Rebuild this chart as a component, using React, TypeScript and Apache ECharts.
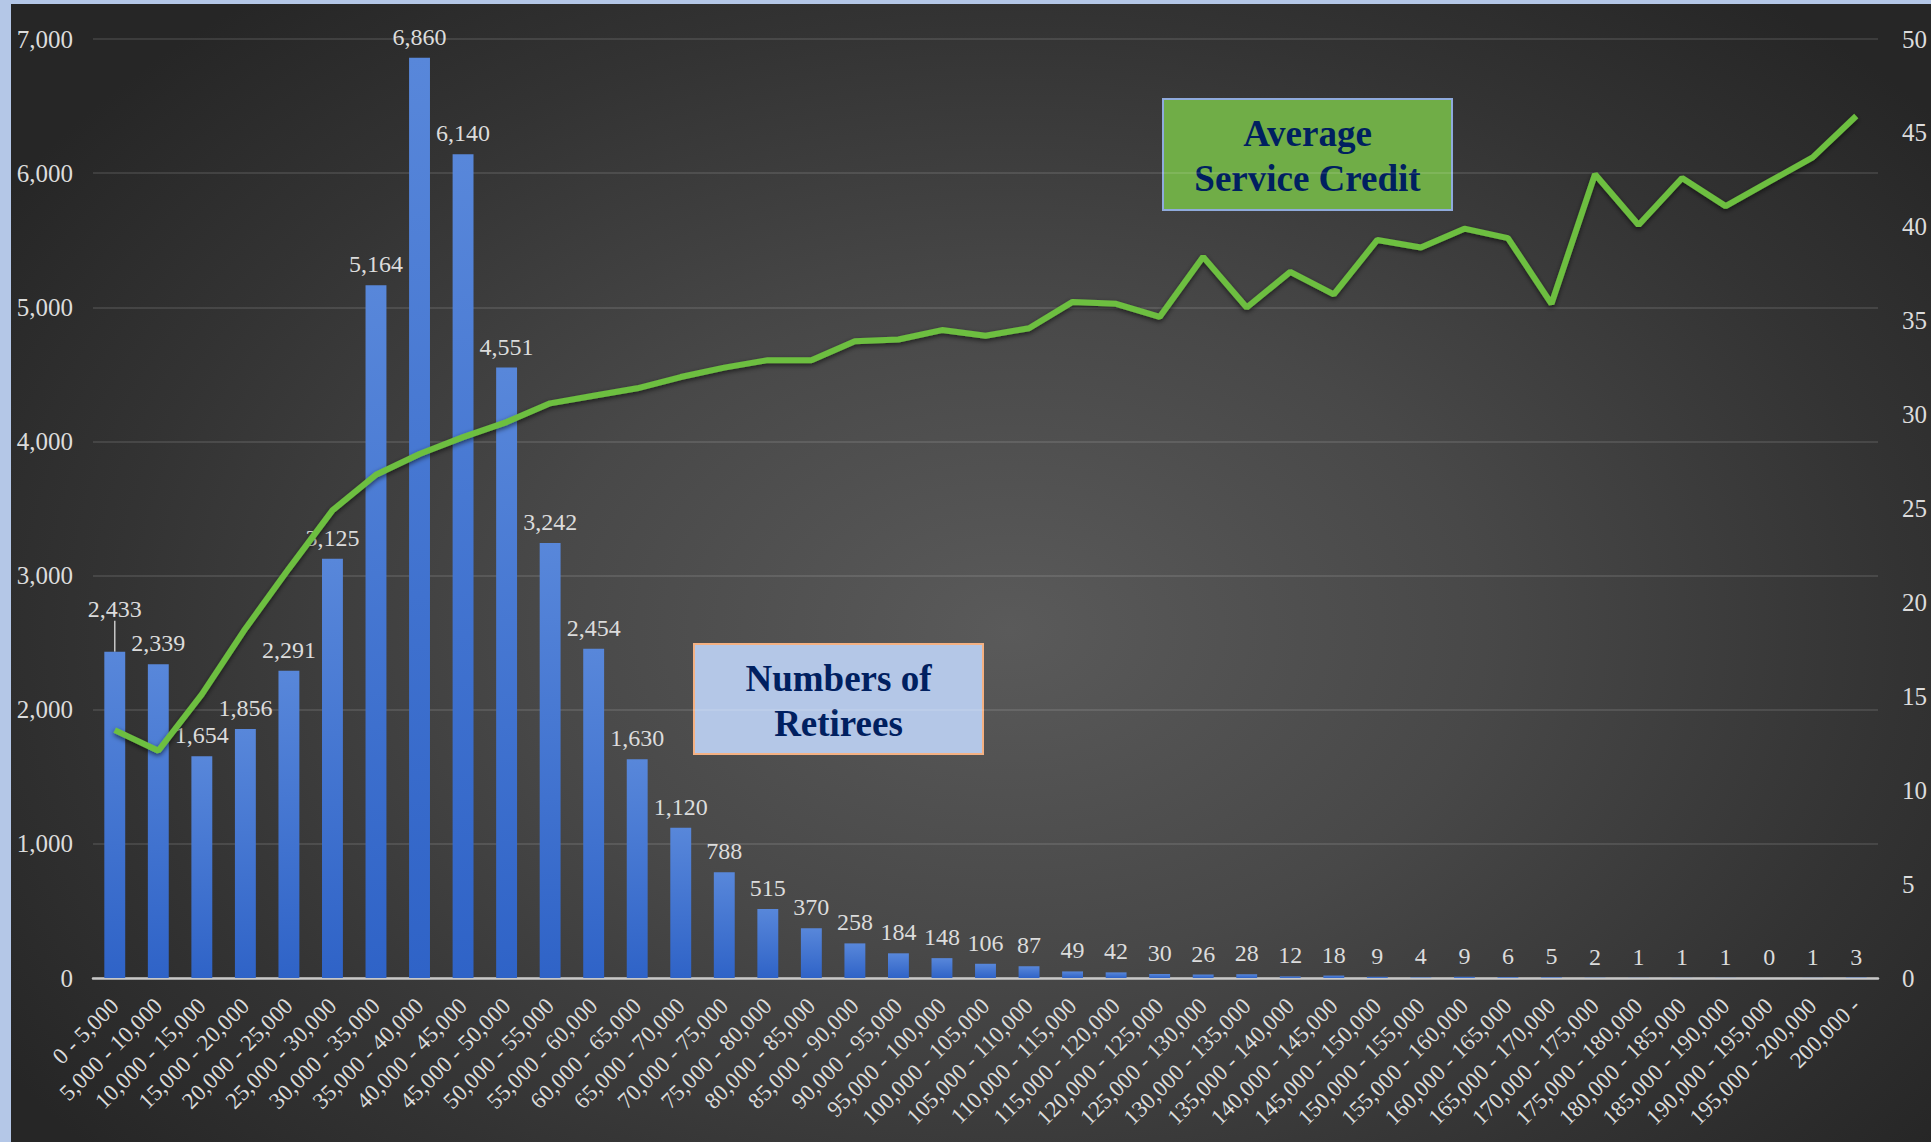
import React, { useEffect, useRef } from "react";
import * as echarts from "echarts";

const categories = [
  "0 - 5,000", "5,000 - 10,000", "10,000 - 15,000", "15,000 - 20,000", "20,000 - 25,000",
  "25,000 - 30,000", "30,000 - 35,000", "35,000 - 40,000", "40,000 - 45,000", "45,000 - 50,000",
  "50,000 - 55,000", "55,000 - 60,000", "60,000 - 65,000", "65,000 - 70,000", "70,000 - 75,000",
  "75,000 - 80,000", "80,000 - 85,000", "85,000 - 90,000", "90,000 - 95,000", "95,000 - 100,000",
  "100,000 - 105,000", "105,000 - 110,000", "110,000 - 115,000", "115,000 - 120,000", "120,000 - 125,000",
  "125,000 - 130,000", "130,000 - 135,000", "135,000 - 140,000", "140,000 - 145,000", "145,000 - 150,000",
  "150,000 - 155,000", "155,000 - 160,000", "160,000 - 165,000", "165,000 - 170,000", "170,000 - 175,000",
  "175,000 - 180,000", "180,000 - 185,000", "185,000 - 190,000", "190,000 - 195,000", "195,000 - 200,000",
  "200,000 -",
];

const retirees = [
  2433, 2339, 1654, 1856, 2291, 3125, 5164, 6860, 6140, 4551,
  3242, 2454, 1630, 1120, 788, 515, 370, 258, 184, 148,
  106, 87, 49, 42, 30, 26, 28, 12, 18, 9,
  4, 9, 6, 5, 2, 1, 1, 1, 0, 1,
  3,
];

const serviceCredit = [
  13.2, 12.1, 15.1, 18.6, 21.8, 24.9, 26.8, 27.9, 28.8, 29.6,
  30.6, 31.0, 31.4, 32.0, 32.5, 32.9, 32.9, 33.9, 34.0, 34.5,
  34.2, 34.6, 36.0, 35.9, 35.2, 38.4, 35.7, 37.6, 36.4, 39.3,
  38.9, 39.9, 39.4, 35.9, 42.8, 40.1, 42.6, 41.1, 42.4, 43.7,
  45.9,
];

const leftTicks = { min: 0, max: 7000, interval: 1000 };
const rightTicks = { min: 0, max: 50, interval: 5 };

const SERIF = '"Liberation Serif", "Times New Roman", serif';
const TEXT_COLOR = "#dcdcdc";

const fmt = (v: number) => Number(v).toLocaleString("en-US");

export default function App() {
  const ref = useRef<HTMLDivElement>(null);

  useEffect(() => {
    if (!ref.current) return;
    const chart = echarts.init(ref.current, null, { renderer: "svg" });
    const barData = retirees.map((v, i) =>
      i === 0
        ? { value: v, labelLine: { show: true, lineStyle: { color: "#c8c8c8", width: 1.5 } } }
        : { value: v }
    );
    chart.setOption({
      animation: false,
      backgroundColor: "transparent",
      grid: { left: 82, right: 53, top: 35, bottom: 164, containLabel: false },
      xAxis: {
        type: "category",
        data: categories,
        axisLine: { show: true, lineStyle: { color: "#c8c8c8", width: 2.5 } },
        axisTick: { show: false },
        axisLabel: {
          interval: 0,
          rotate: 45,
          margin: 24,
          fontSize: 23,
          fontFamily: SERIF,
          color: TEXT_COLOR,
        },
      },
      yAxis: [
        {
          type: "value",
          ...leftTicks,
          axisLine: { show: false },
          axisTick: { show: false },
          axisLabel: {
            margin: 20,
            fontSize: 25,
            fontFamily: SERIF,
            color: TEXT_COLOR,
            formatter: (v: number) => fmt(v),
          },
          splitLine: { lineStyle: { color: "rgba(255,255,255,0.14)", width: 1.5 } },
        },
        {
          type: "value",
          position: "right",
          ...rightTicks,
          axisLine: { show: false },
          axisTick: { show: false },
          axisLabel: {
            margin: 24,
            fontSize: 25,
            fontFamily: SERIF,
            color: TEXT_COLOR,
          },
          splitLine: { show: false },
        },
      ],
      series: [
        {
          type: "bar",
          name: "Numbers of Retirees",
          data: barData,
          barWidth: "48%",
          z: 2,
          itemStyle: {
            color: new echarts.graphic.LinearGradient(0, 0, 0, 1, [
              { offset: 0, color: "#5887da" },
              { offset: 1, color: "#2f63c7" },
            ]),
          },
          label: {
            show: true,
            position: "top",
            distance: 9,
            fontSize: 24,
            fontFamily: SERIF,
            color: TEXT_COLOR,
            formatter: (p: any) => fmt(p.value),
          },
          labelLayout: (p: any) => (p.dataIndex === 0 ? { dy: -22 } : {}),
          labelLine: { show: false },
        },
        {
          type: "line",
          name: "Average Service Credit",
          yAxisIndex: 1,
          data: serviceCredit,
          symbol: "none",
          z: 5,
          lineStyle: {
            color: "#6dbf41",
            width: 6,
            shadowColor: "rgba(0,0,0,0.6)",
            shadowBlur: 5,
            shadowOffsetY: 2,
          },
        },
      ],
      graphic: [
        {
          type: "group",
          z: 100,
          children: [
            {
              type: "rect",
              shape: { x: 1152, y: 95, width: 289, height: 111 },
              style: { fill: "#70ad47", stroke: "#8faadc", lineWidth: 2 },
            },
            {
              type: "text",
              x: 1296.5,
              y: 152,
              style: {
                text: "Average\nService Credit",
                font: 'bold 37px "Liberation Serif", "Times New Roman", serif',
                fill: "#002060",
                align: "center",
                verticalAlign: "middle",
                lineHeight: 45,
              },
            },
            {
              type: "rect",
              shape: { x: 683, y: 640, width: 289, height: 110 },
              style: { fill: "#b4c7e7", stroke: "#f4b183", lineWidth: 2 },
            },
            {
              type: "text",
              x: 827.5,
              y: 697,
              style: {
                text: "Numbers of\nRetirees",
                font: 'bold 37px "Liberation Serif", "Times New Roman", serif',
                fill: "#002060",
                align: "center",
                verticalAlign: "middle",
                lineHeight: 45,
              },
            },
          ],
        },
      ],
    });
    return () => chart.dispose();
  }, []);

  return (
    <div
      style={{
        position: "fixed",
        left: 0,
        top: 0,
        width: 1931,
        height: 1142,
        background: "#b4c7e7",
        overflow: "hidden",
      }}
    >
      <div
        ref={ref}
        style={{
          position: "absolute",
          left: 11,
          top: 4,
          width: 1920,
          height: 1138,
          background:
            "radial-gradient(ellipse 62% 72% at 52% 55%, #5a5a5a 0%, #484848 40%, #333333 75%, #262626 100%)",
        }}
      />
    </div>
  );
}
